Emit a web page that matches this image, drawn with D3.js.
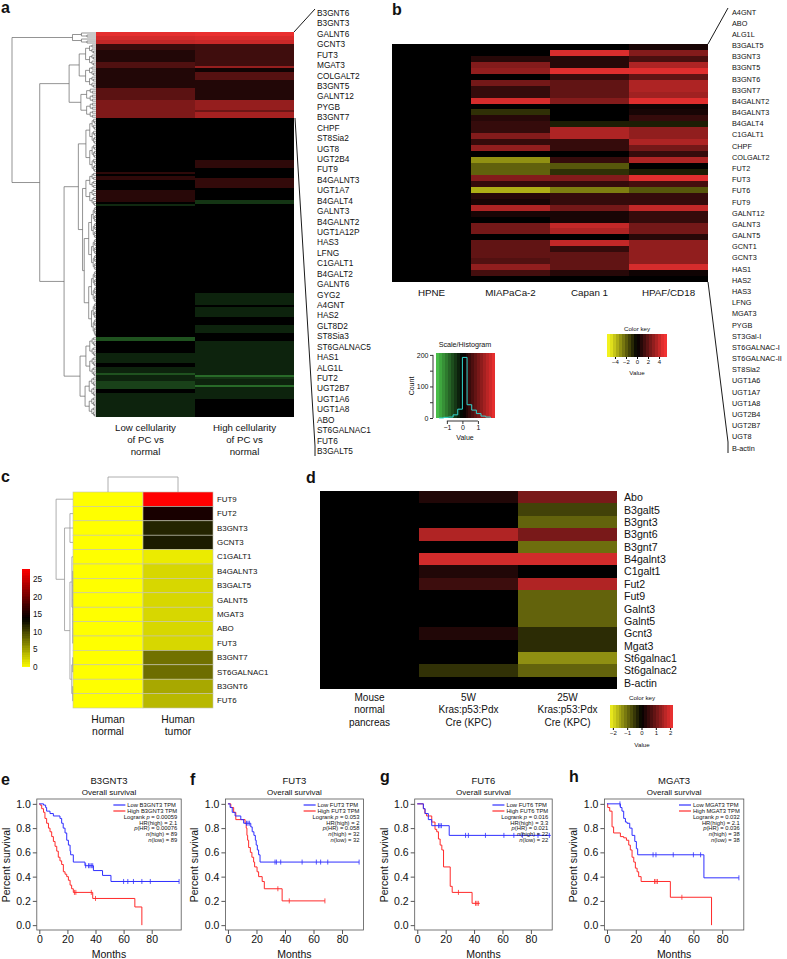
<!DOCTYPE html>
<html>
<head>
<meta charset="utf-8">
<script src="https://cdn.jsdelivr.net/npm/d3@7"></script>
<style>
  body { margin: 0; background: #fff; }
  svg text { font-family: "Liberation Sans", Arial, Helvetica, sans-serif; }
</style>
</head>
<body>
<svg id="fig" width="787" height="959"></svg>
<script>
// ---------- panel a : fold change, stored as runs [startRow, value] per column ----------
const aColumns = ["low", "high"];
const aColumnText = [["Low cellularity", "of PC vs", "normal"], ["High cellularity", "of PC vs", "normal"]];
const aRowCount = 192;
const aLowRuns = [[0, 2.0], [2, 1.85], [4, 1.7], [6, 0.5], [9, 0.3], [15, 0.7], [18, 0.3], [28, 0.8], [34, 1.1],
  [43, 0], [70, 0.4], [71, 0], [72, 0.4], [74, 0], [79, 0.35], [85, 0], [86, -0.35], [87, 0],
  [152, -0.7], [154, 0], [160, -0.3], [165, 0], [167, -0.3], [170, -0.7], [171, -0.3], [174, -0.55], [178, 0], [180, -0.3]];
const aHighRuns = [[0, 2.05], [2, 1.9], [4, 1.75], [6, 0.55], [17, 1.3], [18, 0.15], [20, 0.75], [24, 0.3], [34, 1.3], [39, 0.95], [40, 1.45],
  [43, 0], [64, 0.4], [68, 0], [73, 0.45], [78, 0], [84, -0.45], [86, 0], [130, -0.3], [136, 0], [137, -0.3], [142, 0], [146, -0.3], [150, 0],
  [154, -0.3], [171, -0.9], [172, -0.45], [173, -0.3], [176, -0.9], [177, -0.3], [183, 0]];
const aGenes = ["B3GNT6", "B3GNT3", "GALNT6", "GCNT3", "FUT3", "MGAT3", "COLGALT2", "B3GNT5", "GALNT12", "PYGB", "B3GNT7", "CHPF",
  "ST8Sia2", "UGT8", "UGT2B4", "FUT9", "B4GALNT3", "UGT1A7", "B4GALT4", "GALNT3", "B4GALNT2", "UGT1A12P", "HAS3", "LFNG", "C1GALT1",
  "B4GALT2", "GALNT6", "GYG2", "A4GNT", "HAS2", "GLT8D2", "ST8Sia3", "ST6GALNAC5", "HAS1", "ALG1L", "FUT2", "UGT2B7", "UGT1A6",
  "UGT1A8", "ABO", "ST6GALNAC1", "FUT6", "B3GALT5"];
// dendrogram: [height, child, child]; [height, "s-e"] is a cluster over rows s..e
const aDendro = [1.0, [0.28, "0-6"], [0.67, [0.32, [0.2, "6-28"], [0.18, "28-43"]],
  [0.38, [0.21, [0.12, "43-70"], [0.16, [0.12, "70-87"], [0.14, "87-152"]]], [0.19, [0.12, "152-172"], [0.13, "172-192"]]]]];

// histogram of panel a values
const histBreaks = [-1.5, -1.2, -0.9, -0.6, -0.3, 0, 0.3, 0.6, 0.9, 1.2, 1.5, 1.8];
const histCounts = [0, 2, 3, 10, 28, 192, 42, 25, 14, 6, 3];

// ---------- panel b : cell lines ----------
const bCells = ["HPNE", "MIAPaCa-2", "Capan 1", "HPAF/CD18"];
const bGenes = ["A4GNT", "ABO", "ALG1L", "B3GALT5", "B3GNT3", "B3GNT5", "B3GNT6", "B3GNT7", "B4GALNT2", "B4GALNT3", "B4GALT4",
  "C1GALT1", "CHPF", "COLGALT2", "FUT2", "FUT3", "FUT6", "FUT9", "GALNT12", "GALNT3", "GALNT5", "GCNT1", "GCNT3", "HAS1", "HAS2",
  "HAS3", "LFNG", "MGAT3", "PYGB", "ST3Gal-I", "ST6GALNAC-I", "ST6GALNAC-II", "ST8Sia2", "UGT1A6", "UGT1A7", "UGT1A8", "UGT2B4",
  "UGT2B7", "UGT8", "B-actin"];
const bHPNE = [0, 0, 0, 0, 0, 0, 0, 0, 0, 0, 0, 0, 0, 0, 0, 0, 0, 0, 0, 0, 0, 0, 0, 0, 0, 0, 0, 0, 0, 0, 0, 0, 0, 0, 0, 0, 0, 0, 0, 0];
const bMIA = [0, 0, 0.8, 2.7, 3.0, 0, 2.4, 1.1, 1.1, 4.4, 0, -1.0, 0.8, 1.1, 1.1, 2.7, 1.1, 3.0, 0, -3.0, -2.0, -2.0, 2.7, 1.1, -3.6,
  0.8, 0.5, 3.6, 0.5, 0, 2.4, 2.4, 0, 2.0, 2.0, 2.0, 1.7, 3.0, 1.4, 0];
const bCapan = [0, 4.5, 0.8, 0.8, 4.6, 1.1, 2.0, 2.0, 2.0, 2.7, 0, 0, 0, -0.6, 3.6, 3.6, 1.1, 1.1, 0, 1.1, -1.8, -1.0, 2.7, 1.1, -2.6,
  1.1, 1.1, 2.4, 0.5, 0.5, 4.0, 3.6, 0, 4.0, 1.1, 2.0, 2.0, 2.0, 0.8, 0];
const bHPAF = [0.5, 2.7, 1.5, 3.6, 4.6, 2.0, 3.6, 3.6, 3.3, 4.6, 0.3, 0.5, 1.1, -0.6, 3.0, 3.0, 3.6, 2.4, 1.1, 3.6, 0, -0.6, 4.6, 1.4, -1.8,
  1.1, 1.1, 4.0, 1.1, 1.1, 2.4, 2.4, 0.8, 3.0, 3.0, 3.0, 3.0, 4.4, 0.3, 0];

// ---------- panel c : human tissue ----------
const cSamples = ["Human normal", "Human tumor"];
const cGenes = ["FUT9", "FUT2", "B3GNT3", "GCNT3", "C1GALT1", "B4GALNT3", "B3GALT5", "GALNT5", "MGAT3", "ABO", "FUT3", "B3GNT7",
  "ST6GALNAC1", "B3GNT6", "FUT6"];
const cNormal = [0, 0, 0, 0, 0, 0, 0, 0, 0, 0, 0, 0, 0, 0, 0];
const cTumor = [28, 15.3, 12, 12.5, 1.1, 2.2, 2.2, 2.2, 2.2, 2.2, 2.2, 7.8, 8.0, 4.8, 3.9];
const cDendro = [0.94, "FUT9", [0.47, [0.17, "FUT2", "B3GNT3", "GCNT3"],
  [0.17, [0.06, "C1GALT1", [0.02, "B4GALNT3", "B3GALT5", "GALNT5", "MGAT3", "ABO", "FUT3"]],
    [0.07, [0.02, "B3GNT7", "ST6GALNAC1"], [0.02, "B3GNT6", "FUT6"]]]]];

// ---------- panel d : mouse KPC ----------
const dSamples = ["Mouse normal pancreas", "5W KPC", "25W KPC"];
const dSampleText = [["Mouse", "normal", "pancreas"], ["5W", "Kras:p53:Pdx", "Cre (KPC)"], ["25W", "Kras:p53:Pdx", "Cre (KPC)"]];
const dGenes = ["Abo", "B3galt5", "B3gnt3", "B3gnt6", "B3gnt7", "B4galnt3", "C1galt1", "Fut2", "Fut9", "Galnt3", "Galnt5", "Gcnt3",
  "Mgat3", "St6galnac1", "St6galnac2", "B-actin"];
const dNormal = [0, 0, 0, 0, 0, 0, 0, 0, 0, 0, 0, 0, 0, 0, 0, 0];
const d5W = [0.3, 0, 0, 1.6, 0, 1.9, 0.3, 0.55, 0, 0, 0, 0.3, 0, 0, -0.45, 0];
const d25W = [1.1, -0.6, -0.9, 1.1, -1.0, 1.9, 0, 1.6, -0.9, -0.9, -0.9, -0.4, -0.4, -1.3, -0.9, 0];

// ---------- panels e-h : survival [months, survival] ----------
const eLow = [[0, 1], [3, 0.99], [4.5, 0.97], [5.2, 0.94], [7.6, 0.92], [10, 0.9], [14.7, 0.88], [15.9, 0.84], [17, 0.8], [18.3, 0.76],
  [19.5, 0.7], [20.7, 0.66], [21.9, 0.61], [22.3, 0.58], [24.2, 0.52], [32.5, 0.49], [38.5, 0.45], [45, 0.41], [51, 0.36], [99.5, 0.36]];
const eHigh = [[0, 1], [0.5, 0.99], [1.7, 0.96], [3, 0.93], [4, 0.88], [5.2, 0.84], [6.5, 0.8], [7.6, 0.77], [8.8, 0.73], [10, 0.69],
  [11.2, 0.65], [12.4, 0.61], [13.5, 0.56], [14.7, 0.53], [15.9, 0.5], [17.1, 0.44], [18.3, 0.42], [19.5, 0.4], [20.7, 0.37],
  [21.9, 0.33], [23, 0.3], [24.2, 0.27], [38, 0.22], [68, 0.15], [73, 0]];
const eLowCensor = [33, 35, 36, 37, 38, 60, 63, 67, 73, 79, 99.5];
const eHighCensor = [25, 26, 37, 40];
const eStats = ["Logrank p = 0.00059", "HR(high) = 2.1", "p(HR) = 0.00076", "n(high) = 89", "n(low) = 89"];

const fLow = [[0, 1], [1.5, 0.97], [3, 0.93], [5, 0.9], [9, 0.87], [11, 0.84], [16, 0.81], [17, 0.77], [18.2, 0.74], [19.2, 0.7],
  [19.8, 0.66], [20.6, 0.62], [21.5, 0.58], [22.5, 0.52], [92, 0.52]];
const fHigh = [[0, 1], [2, 0.97], [4, 0.93], [5.5, 0.87], [12, 0.84], [12.8, 0.8], [13.3, 0.74], [13.8, 0.7], [14.5, 0.64], [15.7, 0.6],
  [16.8, 0.56], [18, 0.52], [18.7, 0.48], [20.4, 0.44], [21.5, 0.4], [24, 0.36], [25.5, 0.3], [38, 0.2], [68, 0.2]];
const fLowCensor = [13, 14, 15, 33, 34, 37, 52, 62, 65, 70, 92];
const fHighCensor = [35, 43, 68];
const fStats = ["Logrank p = 0.053", "HR(high) = 2", "p(HR) = 0.058", "n(high) = 32", "n(low) = 32"];

const gLow = [[0, 1], [4.3, 0.96], [5.5, 0.92], [7.8, 0.87], [10.2, 0.82], [22.5, 0.74], [94, 0.74]];
const gHigh = [[0, 1], [4.3, 0.96], [5.4, 0.92], [6.6, 0.9], [10.2, 0.85], [12.5, 0.79], [13.7, 0.77], [14.9, 0.71], [16.1, 0.66],
  [17.3, 0.62], [18.5, 0.48], [23.2, 0.32], [24.6, 0.27], [38.6, 0.18], [44, 0.18]];
const gLowCensor = [15, 16, 17, 34, 36, 48, 61, 68, 74, 85, 93];
const gHighCensor = [29, 41, 42, 43];
const gStats = ["Logrank p = 0.016", "HR(high) = 3.3", "p(HR) = 0.021", "n(high) = 22", "n(low) = 22"];

const hLow = [[0, 1], [9.3, 0.97], [10.4, 0.94], [11.6, 0.88], [12.8, 0.85], [13.9, 0.84], [15.8, 0.8], [17.4, 0.74], [19.3, 0.69],
  [20.4, 0.63], [21.3, 0.58], [67.3, 0.39], [91.6, 0.39]];
const hHigh = [[0, 1], [0.5, 0.97], [1.9, 0.94], [3.5, 0.81], [4.6, 0.76], [9.3, 0.73], [11.6, 0.72], [13.5, 0.7], [15.1, 0.66],
  [16.2, 0.62], [17.4, 0.56], [18.6, 0.52], [19.7, 0.47], [20.9, 0.44], [22, 0.4], [23.7, 0.36], [44, 0.23], [72.6, 0]];
const hLowCensor = [9, 32, 34, 46, 60, 65, 91.6];
const hHighCensor = [33, 34, 35, 52];
const hStats = ["Logrank p = 0.032", "HR(high) = 2.1", "p(HR) = 0.036", "n(high) = 38", "n(low) = 38"];

// =====================================================================
const svg = d3.select("#fig");
const ink = "#111";

function label(g, x, y, s, size, anchor = "start", extra = {}) {
  const t = g.append("text").attr("x", x).attr("y", y).attr("font-size", size)
    .attr("text-anchor", anchor).attr("fill", ink).text(s);
  Object.entries(extra).forEach(([k, v]) => t.attr(k, v));
  return t;
}
function line(g, x1, y1, x2, y2, stroke = "#000", w = 1) {
  return g.append("line").attr("x1", x1).attr("y1", y1).attr("x2", x2).attr("y2", y2)
    .attr("stroke", stroke).attr("stroke-width", w);
}

// generic elbow dendrogram
function drawDendro(g, root, leafPos, hPos, horizontal, stroke, w) {
  (function place(n) {
    if (!n.children) { n.p = leafPos(n.leaf); return; }
    n.children.forEach(place);
    n.p = (n.children[0].p + n.children[n.children.length - 1].p) / 2;
  })(root);
  (function draw(n) {
    if (!n.children) return;
    const hp = hPos(n.h);
    const first = n.children[0].p, last = n.children[n.children.length - 1].p;
    if (horizontal) line(g, hp, first, hp, last, stroke, w); else line(g, first, hp, last, hp, stroke, w);
    n.children.forEach(c => {
      const cp = hPos(c.children ? c.h : 0);
      if (horizontal) line(g, cp, c.p, hp, c.p, stroke, w); else line(g, c.p, cp, c.p, hp, stroke, w);
      draw(c);
    });
  })(root);
}

// panel letters
[["a", 1, 13], ["b", 392, 15], ["c", 1, 482], ["d", 306, 483], ["e", 1, 785], ["f", 190, 785], ["g", 380, 782], ["h", 569, 782]]
  .forEach(([s, x, y]) => label(svg, x, y, s, 16, "start", { "font-weight": "bold" }));

// ---------------- panel a ----------------
{
  const g = svg.append("g");
  const x = d3.scaleBand().domain(aColumns).range([96, 294]);
  const y = d3.scaleLinear().domain([0, aRowCount]).range([32, 417]);
  const color = d3.scaleLinear().domain([-1.7, 0, 2.1]).range(["#4cc84c", "#000000", "#f03030"]).clamp(true);
  const cells = [];
  [[aColumns[0], aLowRuns], [aColumns[1], aHighRuns]].forEach(([col, runs]) =>
    runs.forEach((r, i) => cells.push({ col, s: r[0], e: i + 1 < runs.length ? runs[i + 1][0] : aRowCount, v: r[1] })));
  g.selectAll("rect.cell").data(cells).join("rect").attr("class", "cell")
    .attr("x", d => x(d.col)).attr("width", x.bandwidth())
    .attr("y", d => y(d.s)).attr("height", d => y(d.e) - y(d.s))
    .attr("fill", d => color(d.v)).attr("shape-rendering", "crispEdges");

  // dendrogram
  const comb = (s, e, h) => e - s === 1 ? { leaf: s } :
    { h, children: [comb(s, Math.floor((s + e) / 2), h * 0.62), comb(Math.floor((s + e) / 2), e, h * 0.62)] };
  const toNode = a => (a.length === 2 && typeof a[1] === "string")
    ? comb(+a[1].split("-")[0], +a[1].split("-")[1], a[0])
    : { h: a[0], children: a.slice(1).map(toNode) };
  const hx = d3.scaleLinear().domain([0, 1]).range([96, 12]);
  drawDendro(g.append("g"), toNode(aDendro), r => y(r + 0.5), hx, true, "#666", 0.7);

  aColumns.forEach((c, i) => aColumnText[i].forEach((t, j) =>
    label(g, x(c) + x.bandwidth() / 2, 430.5 + j * 12, t, 9.7, "middle")));

  const ly = d3.scaleLinear().domain([0, aGenes.length - 1]).range([13, 451]);
  aGenes.forEach((s, i) => label(g, 317, ly(i), s, 8.3, "start", { "dominant-baseline": "central" }));
  line(g, 294, 32, 315, 9, "#000", 0.9);
  line(g, 295, 118, 315, 446, "#000", 0.9);
  line(g, 315, 446, 315, 456, "#000", 0.9);

  // scale / histogram key (panel b area)
  const hg = svg.append("g");
  const hX = d3.scaleLinear().domain([-1.7, 2.1]).range([436, 495]);
  const hY = d3.scaleLinear().domain([0, 206]).range([418, 353]);
  const steps = d3.range(-1.7, 2.1, 0.19);
  hg.selectAll("rect").data(steps).join("rect")
    .attr("x", d => hX(d)).attr("width", d => hX(Math.min(d + 0.19, 2.1)) - hX(d) + 0.3)
    .attr("y", 353).attr("height", 65).attr("fill", d => color(d + 0.095)).attr("shape-rendering", "crispEdges");
  const histPts = [[histBreaks[0], 0]];
  histCounts.forEach((c, i) => { histPts.push([histBreaks[i], c]); histPts.push([histBreaks[i + 1], c]); });
  histPts.push([histBreaks[histBreaks.length - 1], 0]);
  hg.append("path").attr("d", d3.line().x(d => hX(d[0])).y(d => hY(d[1]))(histPts))
    .attr("fill", "none").attr("stroke", "#33d6d0").attr("stroke-width", 1);
  const ya = hg.append("g").attr("transform", "translate(433,0)")
    .call(d3.axisLeft(hY).tickValues([0, 50, 100, 150, 200]).tickFormat(d => d % 100 === 0 ? d : "").tickSize(3).tickPadding(1.5));
  const xa = hg.append("g").attr("transform", "translate(0,421)")
    .call(d3.axisBottom(hX).tickValues([-1, 0, 1]).tickFormat(d3.format("d")).tickSize(3).tickPadding(1.5));
  [ya, xa].forEach(a => { a.select(".domain").remove(); a.attr("font-size", 7).attr("font-family", null);
    a.selectAll("line").attr("stroke", "#333"); a.selectAll("text").attr("fill", ink); });
  line(hg, 433, hY(0), 433, hY(200), "#333", 1);
  line(hg, hX(-1), 421, hX(1), 421, "#333", 1);
  label(hg, 465, 347, "Scale/Histogram", 7.2, "middle");
  label(hg, 0, 0, "Count", 7, "middle", { transform: "translate(414,386) rotate(-90)" });
  label(hg, 465, 440, "Value", 7, "middle");
}

// ---------------- panel b ----------------
{
  const g = svg.append("g");
  const x = d3.scaleBand().domain(bCells).range([392, 708]);
  const y = d3.scaleBand().domain(d3.range(bGenes.length)).range([44, 282]);
  const color = d3.scaleLinear().domain([-5, 0, 5]).range(["#f2f21e", "#000000", "#f23232"]).clamp(true);
  const cols = [bHPNE, bMIA, bCapan, bHPAF];
  const cells = [];
  bCells.forEach((c, j) => cols[j].forEach((v, i) => cells.push({ c, i, v })));
  g.selectAll("rect").data(cells).join("rect")
    .attr("x", d => x(d.c)).attr("width", x.bandwidth()).attr("y", d => y(d.i)).attr("height", y.bandwidth())
    .attr("fill", d => color(d.v)).attr("shape-rendering", "crispEdges");
  bCells.forEach(c => label(g, x(c) + x.bandwidth() / 2, 295.5, c, 9.8, "middle"));
  const ly = d3.scaleLinear().domain([0, bGenes.length - 1]).range([12, 448]);
  bGenes.forEach((s, i) => label(g, 732, ly(i), s, 7.3, "start", { "dominant-baseline": "central" }));
  line(g, 708, 44, 728, 8, "#000", 0.9);
  line(g, 708, 282, 728, 442, "#000", 0.9);
  line(g, 728, 442, 728, 453, "#000", 0.9);

  // colour key
  const kx = d3.scaleLinear().domain([-5.45, 5.45]).range([607, 667]);
  const ks = d3.range(-5.45, 5.45, 0.545);
  g.append("g").selectAll("rect").data(ks).join("rect")
    .attr("x", d => kx(d)).attr("width", kx(0.545) - kx(0) + 0.3).attr("y", 334).attr("height", 23)
    .attr("fill", d => color(d + 0.27)).attr("shape-rendering", "crispEdges");
  const ka = g.append("g").attr("transform", "translate(0,357)")
    .call(d3.axisBottom(kx).tickValues([-4, -2, 0, 2, 4]).tickFormat(d3.format("d")).tickSize(2).tickPadding(1));
  ka.select(".domain").remove();
  ka.attr("font-size", 6).attr("font-family", null).selectAll("text").attr("fill", ink);
  label(g, 637, 331, "Color key", 6.2, "middle");
  label(g, 637, 375, "Value", 6.2, "middle");
}

// ---------------- panel c ----------------
{
  const g = svg.append("g");
  const x = d3.scaleBand().domain(cSamples).range([73, 213]);
  const y = d3.scaleBand().domain(cGenes).range([492, 708]);
  const color = d3.scaleLinear().domain([0, 14, 28]).range(["#ffff00", "#000000", "#ff0000"]).clamp(true);
  const cells = [];
  [cNormal, cTumor].forEach((vals, j) => vals.forEach((v, i) => cells.push({ s: cSamples[j], gname: cGenes[i], v })));
  g.selectAll("rect").data(cells).join("rect")
    .attr("x", d => x(d.s)).attr("width", x.bandwidth()).attr("y", d => y(d.gname)).attr("height", y.bandwidth())
    .attr("fill", d => color(d.v)).attr("stroke", "#c4c4b0").attr("stroke-width", 0.6);
  cGenes.forEach(s => label(g, 217, y(s) + y.bandwidth() / 2, s, 7.9, "start", { "dominant-baseline": "central" }));
  cSamples.forEach(s => s.split(" ").forEach((t, j) =>
    label(g, x(s) + x.bandwidth() / 2, 723 + j * 12, t, 10.4, "middle")));

  const toNode = a => typeof a === "string" ? { leaf: a } : { h: a[0], children: a.slice(1).map(toNode) };
  drawDendro(g.append("g"), toNode(cDendro), s => y(s) + y.bandwidth() / 2,
    d3.scaleLinear().domain([0, 1]).range([73, 55]), true, "#999", 0.8);
  drawDendro(g.append("g"), { h: 1, children: [{ leaf: cSamples[0] }, { leaf: cSamples[1] }] },
    s => x(s) + x.bandwidth() / 2, d3.scaleLinear().domain([0, 1]).range([492, 477]), false, "#999", 0.8);

  // colour bar
  const by = d3.scaleLinear().domain([0, 28]).range([667, 569]);
  g.append("g").selectAll("rect").data(d3.range(0, 28, 0.5)).join("rect")
    .attr("x", 22).attr("width", 8).attr("y", d => by(d + 0.5)).attr("height", by(0) - by(0.5) + 0.3)
    .attr("fill", d => color(d + 0.25)).attr("shape-rendering", "crispEdges");
  [0, 5, 10, 15, 20, 25].forEach(v => label(g, 33, by(v), v, 8.2, "start", { "dominant-baseline": "central" }));
}

// ---------------- panel d ----------------
{
  const g = svg.append("g");
  const x = d3.scaleBand().domain(dSamples).range([320, 617]);
  const y = d3.scaleBand().domain(dGenes).range([491, 689]);
  const color = d3.scaleLinear().domain([-2.2, 0, 2.2]).range(["#f2f21e", "#000000", "#f23232"]).clamp(true);
  const cells = [];
  [dNormal, d5W, d25W].forEach((vals, j) => vals.forEach((v, i) => cells.push({ s: dSamples[j], gname: dGenes[i], v })));
  g.selectAll("rect").data(cells).join("rect")
    .attr("x", d => x(d.s)).attr("width", x.bandwidth()).attr("y", d => y(d.gname)).attr("height", y.bandwidth())
    .attr("fill", d => color(d.v)).attr("shape-rendering", "crispEdges");
  dGenes.forEach(s => label(g, 624, y(s) + y.bandwidth() / 2, s, 10.6, "start", { "dominant-baseline": "central" }));
  dSamples.forEach((s, j) => dSampleText[j].forEach((t, k) =>
    label(g, x(s) + x.bandwidth() / 2, 701 + k * 12.3, t, 10, "middle")));

  const kx = d3.scaleLinear().domain([-2.2, 2.2]).range([610, 673]);
  g.append("g").selectAll("rect").data(d3.range(-2.2, 2.2, 0.2)).join("rect")
    .attr("x", d => kx(d)).attr("width", kx(0.2) - kx(0) + 0.3).attr("y", 705).attr("height", 23)
    .attr("fill", d => color(d + 0.1)).attr("shape-rendering", "crispEdges");
  const ka = g.append("g").attr("transform", "translate(0,728)")
    .call(d3.axisBottom(kx).tickValues([-2, -1, 0, 1, 2]).tickFormat(d3.format("d")).tickSize(2).tickPadding(1));
  ka.select(".domain").remove();
  ka.attr("font-size", 6).attr("font-family", null).selectAll("text").attr("fill", ink);
  label(g, 642, 700, "Color key", 6.2, "middle");
  label(g, 642, 747, "Value", 6.2, "middle");
}

// ---------------- panels e-h ----------------
const survPanels = [
  { gene: "B3GNT3", low: eLow, high: eHigh, lowC: eLowCensor, highC: eHighCensor, stats: eStats, domain: [-1.8, 101], range: [36.8, 181.2] },
  { gene: "FUT3", low: fLow, high: fHigh, lowC: fLowCensor, highC: fHighCensor, stats: fStats, domain: [-1.8, 95], range: [225.4, 363.4] },
  { gene: "FUT6", low: gLow, high: gHigh, lowC: gLowCensor, highC: gHighCensor, stats: gStats, domain: [-1.8, 95], range: [414.7, 552.2] },
  { gene: "MGAT3", low: hLow, high: hHigh, lowC: hLowCensor, highC: hHighCensor, stats: hStats, domain: [-1.8, 95], range: [604.4, 743.8] }
];
const blue = "#2f2fff", red = "#ff2a2a";
survPanels.forEach(p => {
  const g = svg.append("g");
  const x = d3.scaleLinear().domain(p.domain).range(p.range);
  const y = d3.scaleLinear().domain([-0.04, 1.04]).range([930, 799]);
  const [L, R] = p.range, cx = (L + R) / 2;
  g.append("rect").attr("x", L).attr("y", 799).attr("width", R - L).attr("height", 131)
    .attr("fill", "none").attr("stroke", "#555").attr("stroke-width", 0.8);
  const ya = g.append("g").attr("transform", `translate(${L},0)`)
    .call(d3.axisLeft(y).tickValues([0, 0.2, 0.4, 0.6, 0.8, 1]).tickFormat(d3.format(".1f")).tickSize(4).tickPadding(2));
  const xa = g.append("g").attr("transform", "translate(0,930)")
    .call(d3.axisBottom(x).tickValues([0, 20, 40, 60, 80]).tickSize(4).tickPadding(2));
  [ya, xa].forEach(a => { a.select(".domain").remove(); a.attr("font-size", 10.5).attr("font-family", null);
    a.selectAll("line").attr("stroke", "#555"); a.selectAll("text").attr("fill", ink); });

  label(g, cx, 783.5, p.gene, 9.5, "middle");
  label(g, cx, 794.5, "Overall survival", 8, "middle");
  label(g, cx, 958, "Months", 10.5, "middle");
  label(g, 0, 0, "Percent survival", 10.5, "middle", { transform: `translate(${L - 27},865) rotate(-90)` });

  const path = d3.line().x(d => x(d[0])).y(d => y(d[1])).curve(d3.curveStepAfter);
  const at = (curve, t) => { let s = curve[0][1]; curve.forEach(([m, v]) => { if (m <= t) s = v; }); return s; };
  [[p.high, p.highC, red], [p.low, p.lowC, blue]].forEach(([curve, cens, col]) => {
    g.append("path").attr("d", path(curve)).attr("fill", "none").attr("stroke", col).attr("stroke-width", 1);
    g.selectAll(null).data(cens).join("line")
      .attr("x1", d => x(d)).attr("x2", d => x(d))
      .attr("y1", d => y(at(curve, d)) - 2.5).attr("y2", d => y(at(curve, d)) + 2.5)
      .attr("stroke", col).attr("stroke-width", 0.8);
  });

  // legend
  const t1 = label(g, 0, 807, `Low ${p.gene} TPM`, 5.8);
  const t2 = label(g, 0, 813, `High ${p.gene} TPM`, 5.8);
  const w = Math.max(t1.node().getComputedTextLength(), t2.node().getComputedTextLength());
  const tx = R - 4 - w;
  t1.attr("x", tx); t2.attr("x", tx);
  line(g, tx - 14, 805, tx - 2, 805, blue, 1.2);
  line(g, tx - 14, 811, tx - 2, 811, red, 1.2);
  p.stats.forEach((s, i) => {
    const t = label(g, R - 4, 819 + i * 5.7, "", 5.8, "end");
    const m = s.match(/^(.*?)(\b[pn])(\s?[=(].*)$/);
    if (m) {
      if (m[1]) t.append("tspan").text(m[1]);
      t.append("tspan").attr("font-style", "italic").text(m[2]);
      t.append("tspan").text(m[3]);
    } else t.text(s);
  });
});
</script>
</body>
</html>
